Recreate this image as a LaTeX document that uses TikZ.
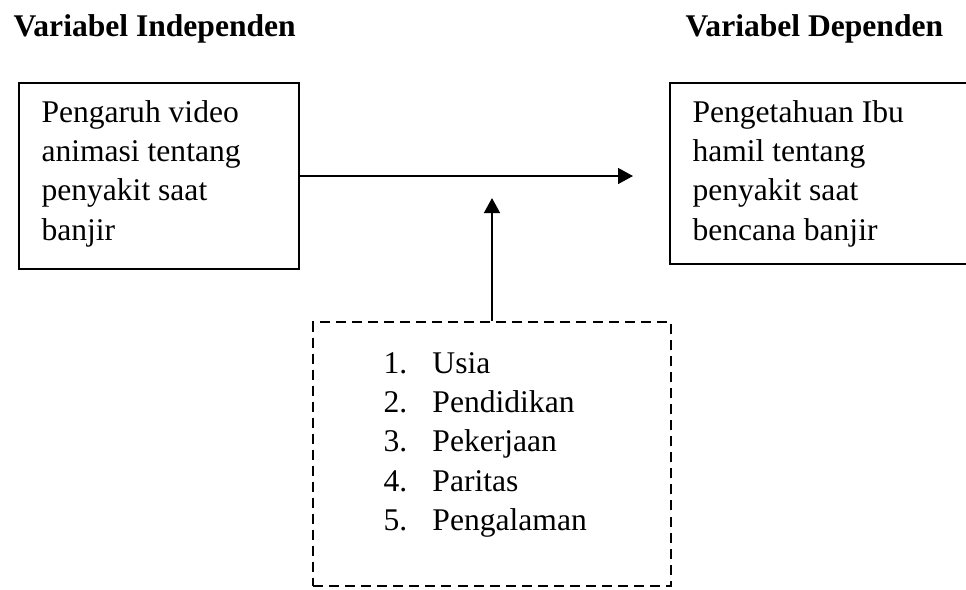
\documentclass[tikz,border=0pt]{standalone}
\usepackage{fontspec}
\setmainfont{Liberation Serif}
\usetikzlibrary{arrows.meta}
\begin{document}
\begin{tikzpicture}[x=0.38pt,y=-0.38pt,
		every node/.style={font=\fontsize{12}{14.9}\selectfont},
		box/.style={draw,line width=0.45pt,inner sep=0pt},
		faktorbox/.style={draw,dash pattern=on 3.8pt off 2.3pt,line width=0.8pt,inner sep=0pt},
		boxtext/.style={anchor=north west,align=left,inner sep=0pt},
		judul/.style={anchor=base west,inner sep=0pt,font=\fontsize{12}{14.9}\selectfont\bfseries},
		panah/.style={-{Triangle[length=5.7pt,width=6pt]},line width=0.8pt}]
	\useasboundingbox (0,0) rectangle (966,589);
	\clip (0,0) rectangle (966,589);
	% judul
	\node [judul] (judulindep) at (13,36) {Variabel Independen};
	\node [judul] (juduldep) at (685,36) {Variabel Dependen};
	
	% variabel independen
	\node [box,minimum width=106.4pt,minimum height=70.7pt] (indep) at (159,176) {};
	\node [boxtext] (indeptext) at (41,100) {Pengaruh video\\animasi tentang\\penyakit saat\\banjir};
	
	% variabel dependen
	\node [box,minimum width=121.6pt,minimum height=68.8pt] (dep) at (830,173.5) {};
	\node [boxtext] (deptext) at (692,100) {Pengetahuan Ibu\\hamil tentang\\penyakit saat\\bencana banjir};
	
	% faktor lain
	\node [faktorbox,minimum width=136pt,minimum height=100.3pt] (faktor) at (492,454) {};
	\node [boxtext] (faktortext) at (383,352) {\makebox[18.6pt][l]{1.}Usia\\
		\makebox[18.6pt][l]{2.}Pendidikan\\
		\makebox[18.6pt][l]{3.}Pekerjaan\\
		\makebox[18.6pt][l]{4.}Paritas\\
		\makebox[18.6pt][l]{5.}Pengalaman};
	
	\coordinate (htip) at (633,176);
	\coordinate (vtip) at (492,198);
	\draw [panah] (indep.east) -- (htip);
	\draw [panah] (faktor.north) -- (vtip);
\end{tikzpicture}
\end{document}
